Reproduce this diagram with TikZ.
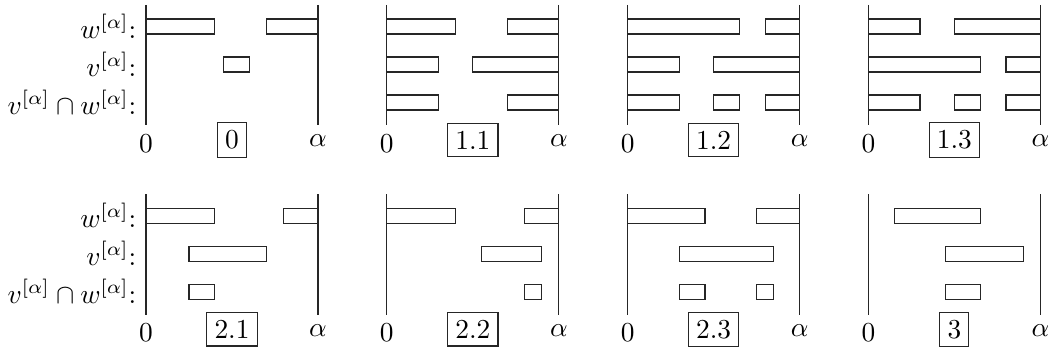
\documentclass[tikz,border=0pt]{standalone}
\usepackage{amsmath}
\usepackage{tikz}

\begin{document}
\begin{tikzpicture}[
  x=3.14pt, y=3.14pt,
  axis/.style = {draw=black!85, line width=0.4pt},
  bar/.style  = {draw=black!85, line width=0.4pt},
  case/.style = {draw=black!85, rectangle, line width=0.4pt, inner sep=2.8pt},
  row/.style  = {left}
]
\useasboundingbox (-16.98,0.58) rectangle (105.0,-40.35);

% row labels
\node[row] (w1)  at (0,-2.5)   {$w^{[\alpha]}$:};
\node[row] (v1)  at (0,-6.9)   {$v^{[\alpha]}$:};
\node[row] (vw1) at (0,-11.3)  {$v^{[\alpha]}\cap w^{[\alpha]}$:};
\node[row] (w2)  at (0,-24.5)  {$w^{[\alpha]}$:};
\node[row] (v2)  at (0,-28.9)  {$v^{[\alpha]}$:};
\node[row] (vw2) at (0,-33.3)  {$v^{[\alpha]}\cap w^{[\alpha]}$:};

% case 0
\begin{scope}[shift={(0,0)}]
\draw[axis] (0,0) -- (0,-14);
\draw[axis] (20,0) -- (20,-14);
\node[below] (zero0)  at (0,-14)  {$0$};
\node[below] (alpha0) at (20,-14) {$\alpha$};
\node[case]  (case0)  at (10,-15.7) {0};
\draw[bar] (0,-1.63) rectangle (8,-3.37);
\draw[bar] (14,-1.63) rectangle (20,-3.37);
\draw[bar] (9,-6.05) rectangle (12,-7.79);
\end{scope}

% case 1.1
\begin{scope}[shift={(28,0)}]
\draw[axis] (0,0) -- (0,-14);
\draw[axis] (20,0) -- (20,-14);
\node[below] (zero11)  at (0,-14)  {$0$};
\node[below] (alpha11) at (20,-14) {$\alpha$};
\node[case]  (case11)  at (10,-15.7) {1.1};
\draw[bar] (0,-1.63) rectangle (8,-3.37);
\draw[bar] (14,-1.63) rectangle (20,-3.37);
\draw[bar] (0,-6.05) rectangle (6,-7.79);
\draw[bar] (10,-6.05) rectangle (20,-7.79);
\draw[bar] (0,-10.47) rectangle (6,-12.21);
\draw[bar] (14,-10.47) rectangle (20,-12.21);
\end{scope}

% case 1.2
\begin{scope}[shift={(56,0)}]
\draw[axis] (0,0) -- (0,-14);
\draw[axis] (20,0) -- (20,-14);
\node[below] (zero12)  at (0,-14)  {$0$};
\node[below] (alpha12) at (20,-14) {$\alpha$};
\node[case]  (case12)  at (10,-15.7) {1.2};
\draw[bar] (0,-1.63) rectangle (13,-3.37);
\draw[bar] (16,-1.63) rectangle (20,-3.37);
\draw[bar] (0,-6.05) rectangle (6,-7.79);
\draw[bar] (10,-6.05) rectangle (20,-7.79);
\draw[bar] (0,-10.47) rectangle (6,-12.21);
\draw[bar] (10,-10.47) rectangle (13,-12.21);
\draw[bar] (16,-10.47) rectangle (20,-12.21);
\end{scope}

% case 1.3
\begin{scope}[shift={(84,0)}]
\draw[axis] (0,0) -- (0,-14);
\draw[axis] (20,0) -- (20,-14);
\node[below] (zero13)  at (0,-14)  {$0$};
\node[below] (alpha13) at (20,-14) {$\alpha$};
\node[case]  (case13)  at (10,-15.7) {1.3};
\draw[bar] (0,-1.63) rectangle (6,-3.37);
\draw[bar] (10,-1.63) rectangle (20,-3.37);
\draw[bar] (0,-6.05) rectangle (13,-7.79);
\draw[bar] (16,-6.05) rectangle (20,-7.79);
\draw[bar] (0,-10.47) rectangle (6,-12.21);
\draw[bar] (10,-10.47) rectangle (13,-12.21);
\draw[bar] (16,-10.47) rectangle (20,-12.21);
\end{scope}

% case 2.1
\begin{scope}[shift={(0,-22)}]
\draw[axis] (0,0) -- (0,-14);
\draw[axis] (20,0) -- (20,-14);
\node[below] (zero21)  at (0,-14)  {$0$};
\node[below] (alpha21) at (20,-14) {$\alpha$};
\node[case]  (case21)  at (10,-15.7) {2.1};
\draw[bar] (0,-1.63) rectangle (8,-3.37);
\draw[bar] (16,-1.63) rectangle (20,-3.37);
\draw[bar] (5,-6.05) rectangle (14,-7.79);
\draw[bar] (5,-10.47) rectangle (8,-12.21);
\end{scope}

% case 2.2
\begin{scope}[shift={(28,-22)}]
\draw[axis] (0,0) -- (0,-14);
\draw[axis] (20,0) -- (20,-14);
\node[below] (zero22)  at (0,-14)  {$0$};
\node[below] (alpha22) at (20,-14) {$\alpha$};
\node[case]  (case22)  at (10,-15.7) {2.2};
\draw[bar] (0,-1.63) rectangle (8,-3.37);
\draw[bar] (16,-1.63) rectangle (20,-3.37);
\draw[bar] (11,-6.05) rectangle (18,-7.79);
\draw[bar] (16,-10.47) rectangle (18,-12.21);
\end{scope}

% case 2.3
\begin{scope}[shift={(56,-22)}]
\draw[axis] (0,0) -- (0,-14);
\draw[axis] (20,0) -- (20,-14);
\node[below] (zero23)  at (0,-14)  {$0$};
\node[below] (alpha23) at (20,-14) {$\alpha$};
\node[case]  (case23)  at (10,-15.7) {2.3};
\draw[bar] (0,-1.63) rectangle (9,-3.37);
\draw[bar] (15,-1.63) rectangle (20,-3.37);
\draw[bar] (6,-6.05) rectangle (17,-7.79);
\draw[bar] (6,-10.47) rectangle (9,-12.21);
\draw[bar] (15,-10.47) rectangle (17,-12.21);
\end{scope}

% case 3
\begin{scope}[shift={(84,-22)}]
\draw[axis] (0,0) -- (0,-14);
\draw[axis] (20,0) -- (20,-14);
\node[below] (zero3)  at (0,-14)  {$0$};
\node[below] (alpha3) at (20,-14) {$\alpha$};
\node[case]  (case3)  at (10,-15.7) {3};
\draw[bar] (3,-1.63) rectangle (13,-3.37);
\draw[bar] (9,-6.05) rectangle (18,-7.79);
\draw[bar] (9,-10.47) rectangle (13,-12.21);
\end{scope}
\end{tikzpicture}
\end{document}
